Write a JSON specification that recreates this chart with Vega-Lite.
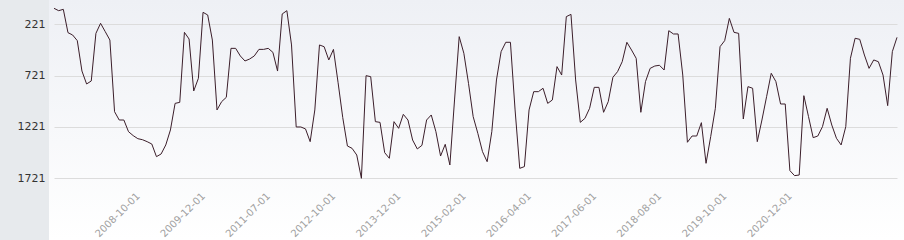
{
  "$schema": "https://vega.github.io/schema/vega-lite/v6.json",
  "width": 855,
  "height": 240,
  "autosize": {"type": "none"},
  "padding": {"left": 49, "top": 0, "right": 0, "bottom": 0},
  "background": "#e7eaed",
  "config": {
    "view": {
      "stroke": null,
      "fill": {"gradient": "linear", "x1": 0, "y1": 0, "x2": 0, "y2": 1, "stops": [{"offset": 0, "color": "#eef0f5"}, {"offset": 1, "color": "#ffffff"}]}
    },
    "axis": {"labelFont": "DejaVu Sans", "domain": false, "ticks": false, "title": null}
  },
  "data": {
    "values": [
      {"d":"2007-04-01","v":65},{"d":"2007-05-01","v":88},{"d":"2007-06-01","v":75},{"d":"2007-07-01","v":302},{"d":"2007-08-01","v":325},{"d":"2007-09-01","v":380},{"d":"2007-10-01","v":676},{"d":"2007-11-01","v":802},{"d":"2007-12-01","v":773},{"d":"2008-01-01","v":309},
      {"d":"2008-02-01","v":211},{"d":"2008-03-01","v":292},{"d":"2008-04-01","v":374},{"d":"2008-05-01","v":1072},{"d":"2008-06-01","v":1153},{"d":"2008-07-01","v":1153},{"d":"2008-08-01","v":1267},{"d":"2008-09-01","v":1305},{"d":"2008-10-01","v":1335},{"d":"2008-11-01","v":1345},
      {"d":"2008-12-01","v":1364},{"d":"2009-01-01","v":1387},{"d":"2009-02-01","v":1510},{"d":"2009-03-01","v":1484},{"d":"2009-04-01","v":1396},{"d":"2009-05-01","v":1250},{"d":"2009-06-01","v":991},{"d":"2009-07-01","v":981},{"d":"2009-08-01","v":299},{"d":"2009-09-01","v":364},
      {"d":"2009-10-01","v":870},{"d":"2009-11-01","v":747},{"d":"2009-12-01","v":104},{"d":"2010-01-01","v":130},{"d":"2010-02-01","v":374},{"d":"2010-03-01","v":1055},{"d":"2010-04-01","v":974},{"d":"2010-05-01","v":932},{"d":"2010-06-01","v":455},{"d":"2010-07-01","v":455},
      {"d":"2011-01-01","v":529},{"d":"2011-02-01","v":578},{"d":"2011-03-01","v":559},{"d":"2011-04-01","v":529},{"d":"2011-05-01","v":465},{"d":"2011-06-01","v":465},{"d":"2011-07-01","v":455},{"d":"2011-08-01","v":494},{"d":"2011-09-01","v":676},{"d":"2011-10-01","v":120},
      {"d":"2011-11-01","v":88},{"d":"2011-12-01","v":422},{"d":"2012-02-01","v":1221},{"d":"2012-03-01","v":1221},{"d":"2012-04-01","v":1240},{"d":"2012-05-01","v":1364},{"d":"2012-06-01","v":1055},{"d":"2012-07-01","v":422},{"d":"2012-08-01","v":439},{"d":"2012-09-01","v":568},
      {"d":"2012-10-01","v":465},{"d":"2012-11-01","v":790},{"d":"2012-12-01","v":1130},{"d":"2013-01-01","v":1406},{"d":"2013-02-01","v":1429},{"d":"2013-03-01","v":1494},{"d":"2013-04-01","v":1721},{"d":"2013-05-01","v":721},{"d":"2013-06-01","v":731},{"d":"2013-07-01","v":1169},
      {"d":"2013-08-01","v":1176},{"d":"2013-09-01","v":1471},{"d":"2013-10-01","v":1526},{"d":"2013-11-01","v":1169},{"d":"2013-12-01","v":1234},{"d":"2014-01-01","v":1098},{"d":"2014-02-01","v":1153},{"d":"2014-03-01","v":1348},{"d":"2014-04-01","v":1435},{"d":"2014-05-01","v":1400},
      {"d":"2014-06-01","v":1153},{"d":"2014-07-01","v":1104},{"d":"2014-08-01","v":1267},{"d":"2014-09-01","v":1504},{"d":"2014-10-01","v":1390},{"d":"2014-11-01","v":1591},{"d":"2014-12-01","v":958},{"d":"2015-01-01","v":341},{"d":"2015-02-01","v":503},{"d":"2015-03-01","v":796},
      {"d":"2015-04-01","v":1120},{"d":"2015-05-01","v":1283},{"d":"2015-06-01","v":1461},{"d":"2015-07-01","v":1559},{"d":"2015-08-01","v":1267},{"d":"2015-09-01","v":763},{"d":"2015-10-01","v":487},{"d":"2015-11-01","v":396},{"d":"2015-12-01","v":396},{"d":"2016-01-01","v":1055},
      {"d":"2016-02-01","v":1624},{"d":"2016-03-01","v":1607},{"d":"2016-04-01","v":1055},{"d":"2016-05-01","v":877},{"d":"2016-06-01","v":877},{"d":"2016-07-01","v":844},{"d":"2016-08-01","v":991},{"d":"2016-09-01","v":958},{"d":"2016-10-01","v":633},{"d":"2016-11-01","v":715},
      {"d":"2016-12-01","v":146},{"d":"2017-01-01","v":124},{"d":"2017-02-01","v":763},{"d":"2017-03-01","v":1176},{"d":"2017-04-01","v":1137},{"d":"2017-05-01","v":1039},{"d":"2017-06-01","v":835},{"d":"2017-07-01","v":835},{"d":"2017-08-01","v":1078},{"d":"2017-09-01","v":974},
      {"d":"2017-10-01","v":737},{"d":"2017-11-01","v":682},{"d":"2017-12-01","v":585},{"d":"2018-01-01","v":396},{"d":"2018-02-01","v":471},{"d":"2018-03-01","v":552},{"d":"2018-04-01","v":1078},{"d":"2018-05-01","v":779},{"d":"2018-06-01","v":650},{"d":"2018-07-01","v":627},
      {"d":"2018-08-01","v":620},{"d":"2018-09-01","v":666},{"d":"2018-10-01","v":283},{"d":"2018-11-01","v":315},{"d":"2018-12-01","v":315},{"d":"2019-01-01","v":715},{"d":"2019-02-01","v":1370},{"d":"2019-03-01","v":1309},{"d":"2019-04-01","v":1309},{"d":"2019-05-01","v":1179},
      {"d":"2019-06-01","v":1575},{"d":"2019-07-01","v":1315},{"d":"2019-08-01","v":1039},{"d":"2019-09-01","v":439},{"d":"2019-10-01","v":380},{"d":"2019-11-01","v":163},{"d":"2019-12-01","v":299},{"d":"2020-01-01","v":309},{"d":"2020-02-01","v":1143},{"d":"2020-03-01","v":828},
      {"d":"2020-04-01","v":844},{"d":"2020-05-01","v":1364},{"d":"2020-06-01","v":1153},{"d":"2020-07-01","v":926},{"d":"2020-08-01","v":698},{"d":"2020-09-01","v":779},{"d":"2020-10-01","v":997},{"d":"2020-11-01","v":997},{"d":"2020-12-01","v":1646},{"d":"2021-01-01","v":1695},
      {"d":"2021-02-01","v":1689},{"d":"2021-03-01","v":916},{"d":"2021-04-01","v":1120},{"d":"2021-05-01","v":1325},{"d":"2021-06-01","v":1309},{"d":"2021-07-01","v":1218},{"d":"2021-08-01","v":1039},{"d":"2021-09-01","v":1202},{"d":"2021-10-01","v":1331},{"d":"2021-11-01","v":1396},
      {"d":"2021-12-01","v":1218},{"d":"2022-01-01","v":552},{"d":"2022-02-01","v":357},{"d":"2022-03-01","v":367},{"d":"2022-04-01","v":520},{"d":"2022-05-01","v":650},{"d":"2022-06-01","v":568},{"d":"2022-07-01","v":585},{"d":"2022-08-01","v":715},{"d":"2022-09-01","v":1013},
      {"d":"2022-10-01","v":487},{"d":"2022-11-01","v":348}
    ]
  },
  "mark": {"type": "line", "color": "#3b1e2a", "strokeWidth": 1, "interpolate": "linear"},
  "encoding": {
    "x": {
      "field": "d",
      "type": "ordinal",
      "sort": "ascending",
      "scale": {"type": "point", "padding": 0, "range": [5, 848]},
      "axis": {
        "values": ["2008-10-01","2009-12-01","2011-07-01","2012-10-01","2013-12-01","2015-02-01","2016-04-01","2017-06-01","2018-08-01","2019-10-01","2020-12-01"],
        "labelAngle": -45,
        "labelAlign": "right",
        "labelBaseline": "middle",
        "labelFontSize": 10,
        "labelColor": "#a0a0a0",
        "labelPadding": 0,
        "offset": -46,
        "grid": false,
        "labelOverlap": false
      }
    },
    "y": {
      "field": "v",
      "type": "quantitative",
      "scale": {"domain": [-16, 2322], "reverse": true, "nice": false, "zero": false},
      "axis": {
        "values": [221, 721, 1221, 1721],
        "format": "d",
        "grid": true,
        "gridColor": "#dcdcdc",
        "gridWidth": 1,
        "labelFontSize": 11,
        "labelColor": "#333333",
        "labelPadding": 4
      }
    }
  }
}
